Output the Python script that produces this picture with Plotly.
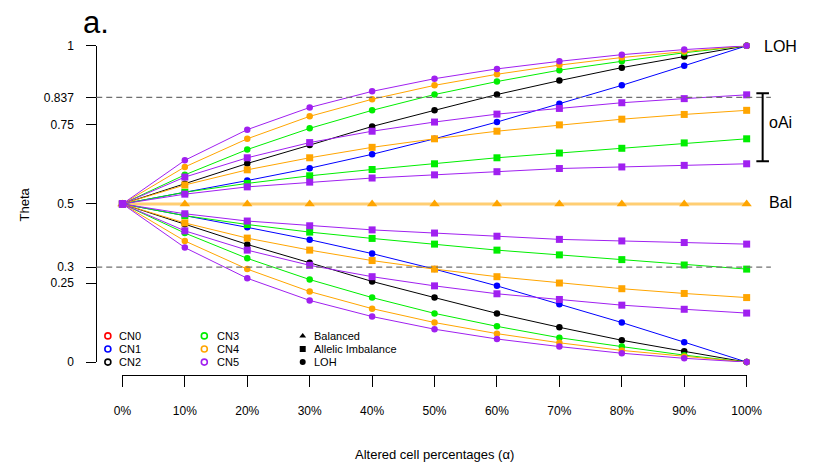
import plotly.graph_objects as go

W, H = 815, 470

# ---------------- data ----------------
alpha = [0.0, 0.1, 0.2, 0.3, 0.4, 0.5, 0.6, 0.7, 0.8, 0.9, 1.0]
alpha_labels = ["0%", "10%", "20%", "30%", "40%", "50%", "60%", "70%", "80%", "90%", "100%"]

theta_ticks = [0, 0.25, 0.3, 0.5, 0.75, 0.837, 1]
theta_tick_labels = ["0", "0.25", "0.3", "0.5", "0.75", "0.837", "1"]

# LOH (upper / lower branch)
cn1_loh_up = [0.5, 0.536, 0.574, 0.613, 0.657, 0.706, 0.759, 0.817, 0.875, 0.937, 1.0]
cn2_loh_up = [0.5, 0.564, 0.628, 0.686, 0.745, 0.796, 0.846, 0.890, 0.931, 0.966, 1.0]
cn3_loh_up = [0.5, 0.592, 0.672, 0.739, 0.796, 0.846, 0.887, 0.923, 0.951, 0.978, 1.0]
cn4_loh_up = [0.5, 0.617, 0.706, 0.777, 0.831, 0.875, 0.910, 0.939, 0.963, 0.982, 1.0]
cn5_loh_up = [0.5, 0.638, 0.735, 0.805, 0.856, 0.896, 0.927, 0.951, 0.972, 0.988, 1.0]

cn1_loh_lo = [0.5, 0.464, 0.426, 0.387, 0.343, 0.294, 0.241, 0.183, 0.125, 0.063, 0.0]
cn2_loh_lo = [0.5, 0.436, 0.372, 0.314, 0.255, 0.204, 0.154, 0.110, 0.069, 0.034, 0.0]
cn3_loh_lo = [0.5, 0.408, 0.328, 0.261, 0.204, 0.154, 0.113, 0.077, 0.049, 0.022, 0.0]
cn4_loh_lo = [0.5, 0.383, 0.294, 0.223, 0.169, 0.125, 0.090, 0.061, 0.037, 0.018, 0.0]
cn5_loh_lo = [0.5, 0.362, 0.265, 0.195, 0.144, 0.104, 0.073, 0.049, 0.028, 0.012, 0.0]

# Allelic imbalance
cn3_ai_up = [0.5, 0.537, 0.565, 0.589, 0.609, 0.627, 0.646, 0.661, 0.676, 0.693, 0.706]
cn4_ai_up = [0.5, 0.560, 0.608, 0.646, 0.679, 0.706, 0.730, 0.750, 0.768, 0.783, 0.796]
cn5_ai41_up = [0.5, 0.585, 0.646, 0.694, 0.730, 0.759, 0.784, 0.802, 0.820, 0.833, 0.845]
cn5_ai32_up = [0.5, 0.531, 0.554, 0.569, 0.582, 0.592, 0.602, 0.612, 0.617, 0.622, 0.627]

cn3_ai_lo = [0.5, 0.463, 0.435, 0.411, 0.391, 0.373, 0.354, 0.339, 0.324, 0.307, 0.294]
cn4_ai_lo = [0.5, 0.440, 0.392, 0.354, 0.321, 0.294, 0.270, 0.250, 0.232, 0.217, 0.204]
cn5_ai41_lo = [0.5, 0.415, 0.354, 0.306, 0.270, 0.241, 0.216, 0.198, 0.180, 0.167, 0.155]
cn5_ai32_lo = [0.5, 0.469, 0.446, 0.431, 0.418, 0.408, 0.398, 0.388, 0.383, 0.378, 0.373]

# Balanced
balanced = [0.5, 0.5, 0.5, 0.5, 0.5, 0.5, 0.5, 0.5, 0.5, 0.5, 0.5]

thresholds = [0.837, 0.3]

cn_names = ["CN0", "CN1", "CN2", "CN3", "CN4", "CN5"]
state_names = ["Balanced", "Allelic Imbalance", "LOH"]

# ---------------- styles ----------------
COL = {"CN0": "#FF0000", "CN1": "#0000FF", "CN2": "#000000",
       "CN3": "#00EE00", "CN4": "#FFA500", "CN5": "#A020F0"}
FONT = "Liberation Sans, Arial, Helvetica, sans-serif"


def px_x(p):
    return p / W


def px_y(p):
    return (H - p) / H


fig = go.Figure()


def add_series(y, cn, symbol, size):
    fig.add_trace(go.Scatter(
        x=alpha, y=y, mode="lines+markers",
        line=dict(color=COL[cn], width=1),
        marker=dict(color=COL[cn], symbol=symbol, size=size, line=dict(width=0)),
        cliponaxis=False, showlegend=False, hoverinfo="skip"))


# balanced line (thick, light orange)
fig.add_trace(go.Scatter(
    x=alpha, y=balanced, mode="lines+markers",
    line=dict(color="rgba(255,165,0,0.55)", width=3),
    marker=dict(color=COL["CN4"], symbol="triangle-up", size=9, line=dict(width=0)),
    cliponaxis=False, showlegend=False, hoverinfo="skip"))

series = [
    (cn1_loh_up, "CN1", "circle", 6.5), (cn1_loh_lo, "CN1", "circle", 6.5),
    (cn2_loh_up, "CN2", "circle", 6.5), (cn2_loh_lo, "CN2", "circle", 6.5),
    (cn3_ai_up, "CN3", "square", 7), (cn3_ai_lo, "CN3", "square", 7),
    (cn3_loh_up, "CN3", "circle", 6.5), (cn3_loh_lo, "CN3", "circle", 6.5),
    (cn4_ai_up, "CN4", "square", 7), (cn4_ai_lo, "CN4", "square", 7),
    (cn4_loh_up, "CN4", "circle", 6.5), (cn4_loh_lo, "CN4", "circle", 6.5),
    (cn5_ai32_up, "CN5", "square", 7), (cn5_ai32_lo, "CN5", "square", 7),
    (cn5_ai41_up, "CN5", "square", 7), (cn5_ai41_lo, "CN5", "square", 7),
    (cn5_loh_up, "CN5", "circle", 6.5), (cn5_loh_lo, "CN5", "circle", 6.5),
]
for y, cn, sym, sz in series:
    add_series(y, cn, sym, sz)

# ---------------- manual legend on a pixel overlay axis ----------------
leg_rows = [339, 352.5, 366]
leg_cols = [(102, 111), (201.5, 212)]
for i, cn in enumerate(cn_names):
    mx, tx = leg_cols[i // 3]
    my = leg_rows[i % 3]
    fig.add_trace(go.Scatter(
        x=[mx], y=[my], xaxis="x2", yaxis="y2", mode="markers",
        marker=dict(symbol="circle-open", size=6, color=COL[cn], line=dict(width=1.6, color=COL[cn])),
        showlegend=False, hoverinfo="skip", cliponaxis=False))
    fig.add_annotation(x=tx, y=my, xref="x2", yref="y2", text=cn, showarrow=False,
                       xanchor="left", yanchor="middle",
                       font=dict(family=FONT, size=11, color="black"))

state_symbols = ["triangle-up", "square", "circle"]
for i, nm in enumerate(state_names):
    my = leg_rows[i]
    fig.add_trace(go.Scatter(
        x=[303], y=[my], xaxis="x2", yaxis="y2", mode="markers",
        marker=dict(symbol=state_symbols[i], size=6, color="black", line=dict(width=0)),
        showlegend=False, hoverinfo="skip", cliponaxis=False))
    fig.add_annotation(x=313, y=my, xref="x2", yref="y2", text=nm, showarrow=False,
                       xanchor="left", yanchor="middle",
                       font=dict(family=FONT, size=11, color="black"))

# ---------------- shapes ----------------
for t in thresholds:
    fig.add_shape(type="line", xref="paper", yref="y", x0=px_x(90), x1=px_x(786), y0=t, y1=t,
                  line=dict(color="#707070", width=1.3, dash="6px,4px"))

# oAi bracket
br_top, br_bot = 0.850, 0.635
bx = px_x(777.5)
fig.add_shape(type="line", xref="paper", yref="y", x0=bx, x1=bx, y0=br_bot, y1=br_top,
              line=dict(color="black", width=2))
for yy in (br_top, br_bot):
    fig.add_shape(type="line", xref="paper", yref="y", x0=px_x(771), x1=px_x(784), y0=yy, y1=yy,
                  line=dict(color="black", width=2))

# ---------------- text ----------------
fig.add_annotation(x=px_x(74), y=px_y(16), xref="paper", yref="paper", text="a.",
                   showarrow=False, xanchor="left", yanchor="middle",
                   font=dict(family=FONT, size=31, color="black"))
fig.add_annotation(x=px_x(15.5), y=px_y(203.5), xref="paper", yref="paper", text="Theta",
                   showarrow=False, textangle=-90, xanchor="center", yanchor="middle",
                   font=dict(family=FONT, size=13, color="black"))
fig.add_annotation(x=px_x(439), y=px_y(461), xref="paper", yref="paper",
                   text="Altered cell percentages (α)",
                   showarrow=False, xanchor="center", yanchor="middle",
                   font=dict(family=FONT, size=13, color="black"))
for txt, xx, yy in [("LOH", 777, 40.7), ("oAi", 782, 119), ("Bal", 782.5, 201)]:
    fig.add_annotation(x=px_x(xx), y=px_y(yy), xref="paper", yref="paper", text=txt,
                       showarrow=False, xanchor="left", yanchor="middle",
                       font=dict(family=FONT, size=16, color="black"))

# ---------------- layout ----------------
fig.update_layout(
    width=W, height=H,
    margin=dict(l=0, r=0, t=0, b=0),
    paper_bgcolor="white", plot_bgcolor="rgba(0,0,0,0)",
    font=dict(family=FONT, size=12, color="black"),
    showlegend=False,
    xaxis=dict(domain=[px_x(117), px_x(761)], range=[0, 1],
               tickvals=alpha, ticktext=alpha_labels,
               showline=True, linecolor="black", linewidth=1,
               ticks="outside", ticklen=11, tickcolor="black", tickwidth=1,
               ticklabelstandoff=14,
               showgrid=False, zeroline=False,
               anchor="free", position=px_y(379),
               tickfont=dict(family=FONT, size=12, color="black")),
    yaxis=dict(domain=[px_y(366), px_y(40)], range=[0, 1],
               tickvals=theta_ticks, ticktext=theta_tick_labels,
               showline=True, linecolor="black", linewidth=1,
               ticks="outside", ticklen=10, tickcolor="black", tickwidth=1,
               ticklabelstandoff=10,
               showgrid=False, zeroline=False,
               anchor="free", position=px_x(90),
               tickfont=dict(family=FONT, size=12, color="black")),
    xaxis2=dict(domain=[0, 1], range=[0, W], visible=False, anchor="y2", fixedrange=True),
    yaxis2=dict(domain=[0, 1], range=[H, 0], visible=False, anchor="x2", fixedrange=True),
)

fig.write_html("out.html")
